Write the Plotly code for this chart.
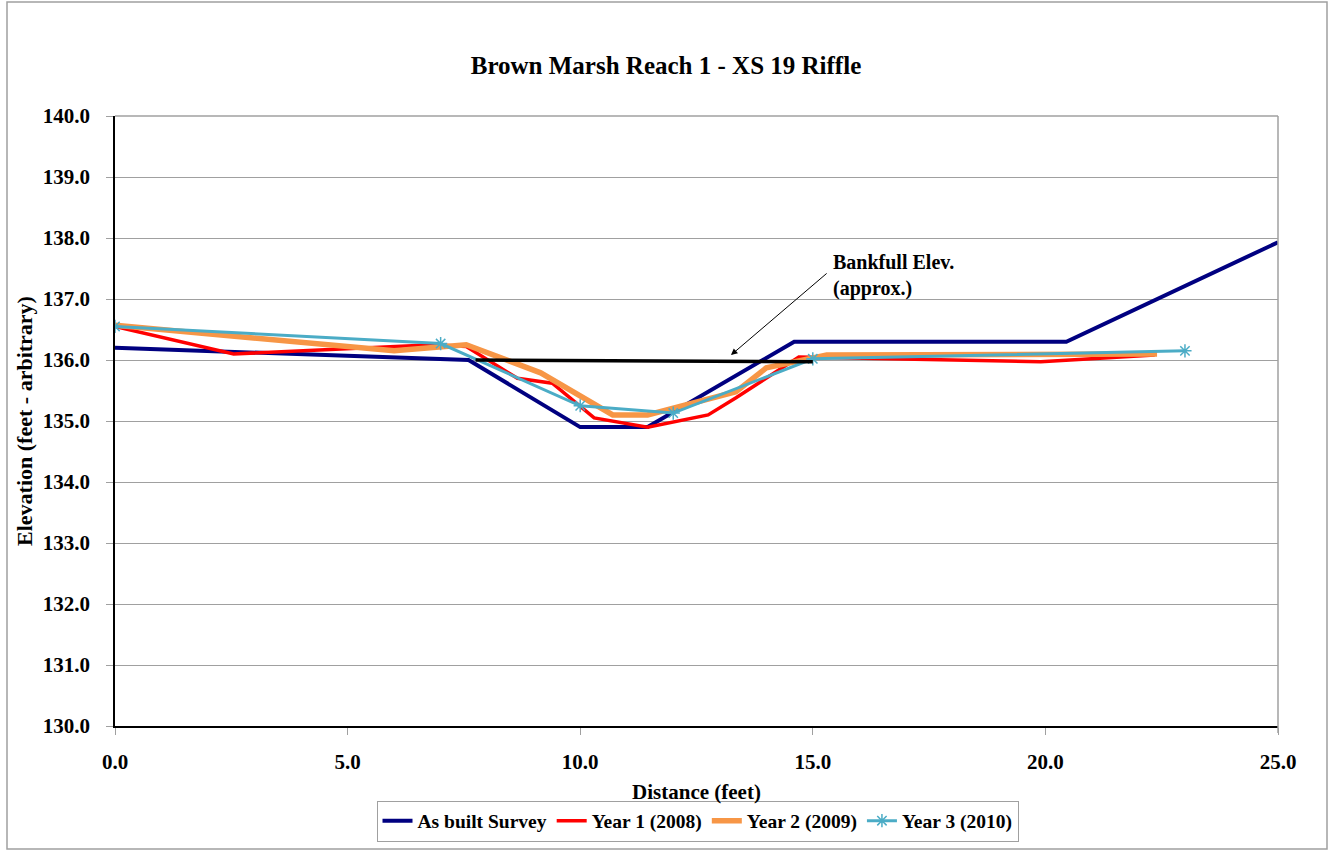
import plotly.graph_objects as go

# Data
asbuilt_x = [0.0, 7.6, 10.0, 11.45, 14.6, 20.45, 25.0]
asbuilt_y = [136.2, 136.0, 134.9, 134.9, 136.3, 136.3, 137.93]

y1_x = [0.0, 2.55, 6.85, 7.55, 8.65, 9.4, 10.3, 11.45, 12.75, 13.35, 14.7, 19.9, 22.35]
y1_y = [136.55, 136.1, 136.25, 136.22, 135.7, 135.62, 135.05, 134.9, 135.1, 135.38, 136.05, 135.97, 136.08]

y2_x = [0.0, 6.0, 7.55, 9.15, 10.7, 11.45, 13.35, 14.0, 15.3, 22.4]
y2_y = [136.57, 136.15, 136.25, 135.79, 135.1, 135.1, 135.48, 135.87, 136.08, 136.1]

y3_x = [0.0, 7.0, 10.0, 12.0, 15.0, 23.0]
y3_y = [136.55, 136.27, 135.25, 135.13, 136.02, 136.15]

bank_x = [7.75, 15.0]
bank_y = [136.0, 135.97]

x_ticks = [0, 5, 10, 15, 20, 25]

FONT = "Liberation Serif"
W, H = 1329, 850
L, R, T, B = 115, 51, 116, 124
PW, PH = W - L - R, H - T - B


def px_x(p):
    return (p - L) / PW


def px_y(p):
    return (H - B - p) / PH


fig = go.Figure()
fig.add_trace(go.Scatter(x=asbuilt_x, y=asbuilt_y, mode="lines", name="As built Survey",
                         line=dict(color="#000080", width=4)))
fig.add_trace(go.Scatter(x=y1_x, y=y1_y, mode="lines", name="Year 1 (2008)",
                         line=dict(color="#FF0000", width=3.5)))
fig.add_trace(go.Scatter(x=y2_x, y=y2_y, mode="lines", name="Year 2 (2009)",
                         line=dict(color="#F79646", width=5.5)))
fig.add_trace(go.Scatter(x=y3_x, y=y3_y, mode="lines+markers", name="Year 3 (2010)",
                         line=dict(color="#4BACC6", width=3),
                         marker=dict(symbol="asterisk-open", size=11, color="#4BACC6",
                                     line=dict(color="#4BACC6", width=1.5))))
fig.add_trace(go.Scatter(x=bank_x, y=bank_y, mode="lines", showlegend=False,
                         line=dict(color="#000000", width=3.5), hoverinfo="skip"))

fig.add_annotation(x=13.24, y=136.08, ax=15.33, ay=137.44, xref="x", yref="y",
                   axref="x", ayref="y", text="", showarrow=True,
                   arrowhead=2, arrowsize=1.3, arrowwidth=1, arrowcolor="black")
fig.add_annotation(x=15.4, y=137.39, xref="x", yref="y", xanchor="left", yanchor="middle",
                   text="<b>Bankfull Elev.<br>(approx.)</b>", showarrow=False, align="left",
                   font=dict(family=FONT, size=20, color="black"))

# outer chart border
fig.add_shape(type="rect", xref="paper", yref="paper",
              x0=px_x(7), x1=px_x(1327), y0=px_y(849), y1=px_y(2),
              line=dict(color="#A0A0A0", width=1.5), layer="below")
# top and right plot border (gray)
fig.add_shape(type="line", xref="paper", yref="paper", x0=0, x1=1, y0=1, y1=1,
              line=dict(color="#A0A0A0", width=1.5))
fig.add_shape(type="line", xref="paper", yref="paper", x0=1, x1=1, y0=px_y(733), y1=1,
              line=dict(color="#A0A0A0", width=1.5))

fig.update_layout(
    width=W, height=H,
    margin=dict(l=L, r=R, t=T, b=B, autoexpand=False),
    paper_bgcolor="white", plot_bgcolor="white",
    title=dict(text="<b>Brown Marsh Reach 1 - XS 19 Riffle</b>", x=666 / W, xref="container",
               xanchor="center", y=1 - 65 / H, yref="container", yanchor="middle",
               font=dict(family=FONT, size=25, color="black")),
    font=dict(family=FONT, color="black"),
    showlegend=True,
    legend=dict(orientation="h", x=px_x(697.5), y=px_y(821), xanchor="center", yanchor="middle",
                bordercolor="#A0A0A0", borderwidth=1,
                font=dict(family=FONT, size=19.5, weight="bold", color="black"),
                itemwidth=30, tracegroupgap=0),
)

fig.update_xaxes(range=[0, 25], tickvals=x_ticks, tickformat=".1f", automargin=False,
                 showgrid=False, zeroline=False, showline=True, linecolor="black", linewidth=1.5,
                 ticks="outside", ticklen=7, tickcolor="#A0A0A0", ticklabelstandoff=9,
                 tickfont=dict(family=FONT, size=21, weight="bold", color="black"),
                 title=dict(text="<b>Distance (feet)</b>", font=dict(family=FONT, size=21), standoff=11))
fig.update_yaxes(range=[130, 140], dtick=1, tickformat=".1f", automargin=False,
                 showgrid=True, gridcolor="#A0A0A0", gridwidth=1, zeroline=False,
                 showline=True, linecolor="black", linewidth=1.5,
                 ticks="outside", ticklen=7, tickcolor="#A0A0A0", ticklabelstandoff=12,
                 tickfont=dict(family=FONT, size=21, weight="bold", color="black"),
                 title=dict(text="<b>Elevation (feet - arbitrary)</b>", font=dict(family=FONT, size=22), standoff=4))

fig.write_html("out.html", config={"displayModeBar": False},
               post_script="document.body.style.margin='0';document.body.style.overflow='hidden';")
